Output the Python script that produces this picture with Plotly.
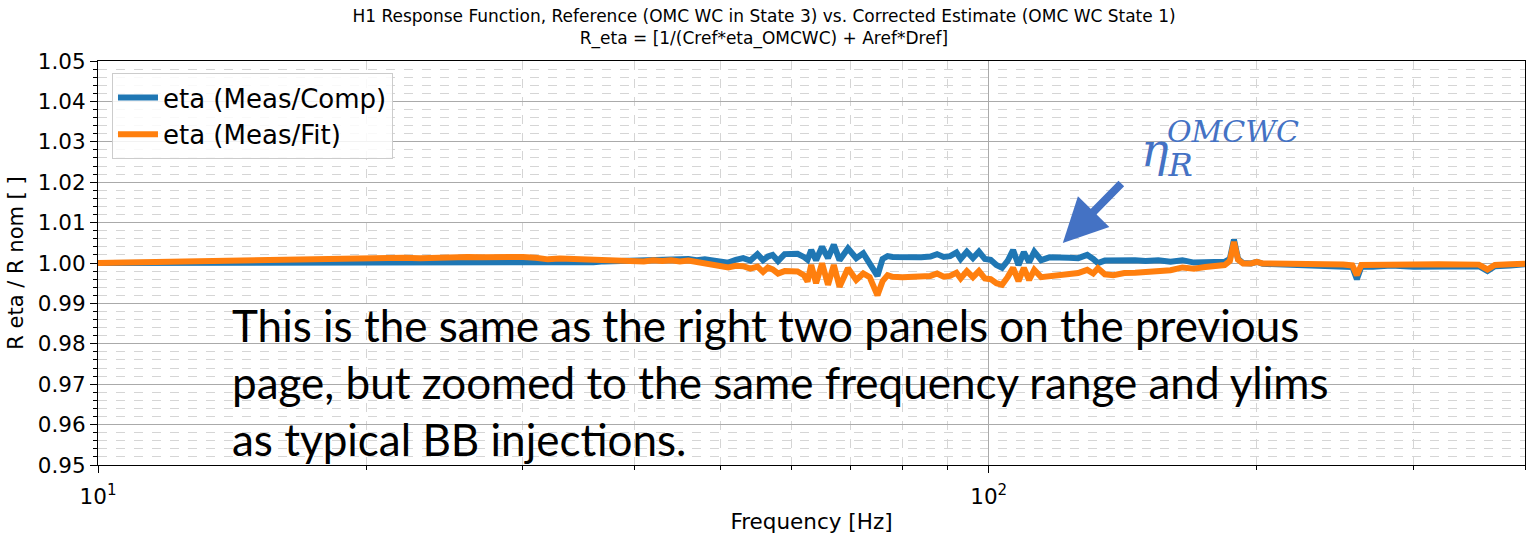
import math
import plotly.graph_objects as go

# ---- data ----
freq_hz = [10, 11, 12, 13, 14, 15, 16, 17, 18, 19, 20, 21, 22, 23, 24, 25, 26, 27, 28, 29, 30,
           31, 32, 33, 34, 35, 36, 37, 38, 39, 40, 41, 42, 43, 44, 45, 46, 47, 48, 49, 50,
           51, 52, 53, 54, 55, 55.8, 56.5, 57.2, 58, 59, 60, 61, 62, 62.6, 63.2, 64, 65, 66,
           67, 68, 69.5, 71, 72.3, 73.5, 75, 76, 77, 78, 80, 82, 84, 86, 87.5, 89, 90.5, 92,
           93, 94.5, 96, 97.5, 99, 100.5, 102, 103.5, 105, 106.5, 108, 109.5, 111, 112.5,
           114.5, 117, 120, 123, 126, 129, 131, 132.6, 135, 138, 142, 146, 150, 155, 160,
           165, 170, 175, 180, 184, 186.5, 188.5, 190.5, 193, 197, 200, 203, 210, 220, 230,
           240, 250, 256, 259, 262, 270, 283, 300, 320, 340, 355, 363, 370, 385, 400]

eta_meas_comp = [1.0000, 1.0000, 1.0001, 1.0001, 1.0001, 1.0002, 1.0002, 1.0002, 1.0002, 1.0002, 1.0002,
                 1.0003, 1.0002, 1.0003, 1.0002, 1.0003, 1.0002, 1.0003, 1.0002, 1.0003, 1.0002,
                 1.0003, 1.0002, 1.0001, 1.0002, 1.0001, 1.0002, 1.0004, 1.0005, 1.0006, 1.0007,
                 1.0005, 1.0008, 1.0006, 1.0009, 1.0008, 1.0010, 1.0007, 1.0009, 1.0006, 1.0003,
                 1.0001, 1.0008, 1.0012, 1.0006, 1.0022, 1.0007, 1.0016, 1.0020, 1.0005, 1.0022,
                 1.0024, 1.0023, 1.0015, 1.0008, 1.0032, 1.0007, 1.0040, 1.0012, 1.0045, 1.0007,
                 1.0036, 1.0012, 1.0024, 1.0000, 0.9968, 1.0010, 1.0017, 1.0015, 1.0014, 1.0016,
                 1.0014, 1.0016, 1.0022, 1.0015, 1.0017, 1.0026, 1.0010, 1.0028, 1.0012, 1.0028,
                 1.0010, 1.0008, 0.9995, 0.9988, 1.0005, 1.0032, 0.9995, 1.0027, 1.0002, 1.0028,
                 1.0007, 1.0014, 1.0012, 1.0013, 1.0012, 1.0020, 1.0010, 1.0000, 1.0006, 1.0007,
                 1.0006, 1.0007, 1.0005, 1.0007, 1.0003, 1.0007, 1.0001, 1.0002, 1.0003, 1.0003,
                 1.0010, 1.0058, 1.0010, 1.0000, 0.9999, 1.0003, 0.9998, 0.9997, 0.9996, 0.9995,
                 0.9993, 0.9992, 0.9990, 0.9960, 0.9991, 0.9991, 0.9994, 0.9991, 0.9991, 0.9993,
                 0.9992, 0.9980, 0.9992, 0.9994, 0.9997]

eta_meas_fit = [1.0000, 1.0002, 1.0003, 1.0004, 1.0005, 1.0006, 1.0007, 1.0008, 1.0010, 1.0011, 1.0012,
                1.0012, 1.0013, 1.0012, 1.0014, 1.0013, 1.0015, 1.0014, 1.0015, 1.0016, 1.0015,
                1.0013, 1.0009, 1.0011, 1.0010, 1.0009, 1.0006, 1.0008, 1.0005, 1.0007, 1.0006,
                1.0004, 1.0007, 1.0005, 1.0007, 1.0004, 1.0006, 1.0002, 1.0001, 0.9996, 0.9991,
                0.9989, 0.9993, 0.9992, 0.9986, 0.9991, 0.9978, 0.9989, 0.9984, 0.9974, 0.9980,
                0.9978, 0.9979, 0.9970, 0.9954, 0.9995, 0.9950, 0.9999, 0.9946, 0.9995, 0.9941,
                0.9987, 0.9958, 0.9974, 0.9965, 0.9920, 0.9955, 0.9970, 0.9966, 0.9965, 0.9966,
                0.9965, 0.9968, 0.9974, 0.9966, 0.9968, 0.9976, 0.9962, 0.9980, 0.9965, 0.9980,
                0.9962, 0.9960, 0.9950, 0.9946, 0.9965, 0.9988, 0.9955, 0.9988, 0.9958, 0.9983,
                0.9965, 0.9968, 0.9970, 0.9972, 0.9975, 0.9983, 0.9974, 0.9987, 0.9972, 0.9970,
                0.9975, 0.9976, 0.9978, 0.9980, 0.9982, 0.9989, 0.9986, 0.9990, 0.9993, 0.9995,
                1.0005, 1.0052, 1.0008, 0.9999, 0.9999, 1.0003, 0.9999, 0.9999, 0.9998, 0.9998,
                0.9997, 0.9996, 0.9994, 0.9970, 0.9995, 0.9996, 0.9997, 0.9996, 0.9997, 0.9997,
                0.9996, 0.9984, 0.9995, 0.9997, 0.9998]

series_names = ["eta (Meas/Comp)", "eta (Meas/Fit)"]
series_colors = ["#1f77b4", "#ff7f0e"]

x_major_ticks = [10, 100]
x_major_labels = ["10<sup>1</sup>", "10<sup>2</sup>"]
x_minor_ticks = [20, 30, 40, 50, 60, 70, 80, 90, 200, 300, 400]

title_text = ("H1 Response Function, Reference (OMC WC in State 3) vs. Corrected Estimate (OMC WC State 1)"
              "<br>R_eta = [1/(Cref*eta_OMCWC) + Aref*Dref]")
note_text = ("This is the same as the right two panels on the previous<br>"
             "page, but zoomed to the same frequency range and ylims<br>"
             "as typical BB injections.")
arrow_tip = (121.1, 1.00495)

FONT = "DejaVu Sans"
fig = go.Figure()
for name, vals, col in zip(series_names, [eta_meas_comp, eta_meas_fit], series_colors):
    fig.add_trace(go.Scatter(x=freq_hz, y=vals, mode="lines", name=name,
                             line=dict(color=col, width=6)))

fig.update_layout(
    width=1528, height=534,
    margin=dict(l=98, r=3, t=61, b=69),
    paper_bgcolor="white", plot_bgcolor="white",
    font=dict(family=FONT, color="black"),
    title=dict(text=title_text, x=0.5, xref="container", xanchor="center",
               y=1 - 22 / 534, yref="container", yanchor="middle",
               font=dict(family=FONT, size=17)),
    showlegend=True,
    legend=dict(x=0.0098, y=0.97, xanchor="left", yanchor="top",
                bgcolor="rgba(255,255,255,0.85)", bordercolor="#cccccc", borderwidth=1,
                font=dict(family=FONT, size=26), tracegroupgap=0, itemwidth=40),
    xaxis=dict(type="log", range=[1, math.log10(400)],
               tickmode="array", tickvals=x_major_ticks, ticktext=x_major_labels,
               ticks="outside", ticklen=7, tickwidth=1, tickcolor="black",
               tickfont=dict(size=21.5), ticklabelstandoff=5,
               showline=True, linecolor="black", linewidth=1, mirror=True,
               showgrid=True, gridcolor="#aaaaaa", gridwidth=1,
               minor=dict(tickmode="array", tickvals=x_minor_ticks, ticks="outside", ticklen=4,
                          tickcolor="black", showgrid=True, gridcolor="#d5d5d5", griddash="dash",
                          gridwidth=1),
               title=dict(text="Frequency [Hz]", font=dict(size=21.5), standoff=8),
               zeroline=False),
    yaxis=dict(range=[0.95, 1.05], dtick=0.01, tick0=0.95, tickformat=".2f",
               ticks="outside", ticklen=7, tickwidth=1, tickcolor="black",
               tickfont=dict(size=21.5),
               showline=True, linecolor="black", linewidth=1, mirror=True,
               showgrid=True, gridcolor="#aaaaaa", gridwidth=1,
               minor=dict(dtick=0.002, ticks="outside", ticklen=4, tickcolor="black",
                          showgrid=True, gridcolor="#d5d5d5", griddash="dash", gridwidth=1),
               title=dict(text="R eta / R nom [ ]", font=dict(size=21), standoff=8),
               zeroline=False),
)

BLUE = "#4472C4"
fig.add_annotation(xref="paper", yref="paper", x=0.0925, y=0.205, xanchor="left", yanchor="middle",
                   align="left", showarrow=False, text=note_text,
                   font=dict(family="Lato", size=44, color="black"))
fig.add_annotation(xref="paper", yref="paper", x=0.7295, y=0.77, xanchor="left", yanchor="middle",
                   showarrow=False, text="<i>η<sub>R</sub></i>",
                   font=dict(family="DejaVu Serif", size=46, color=BLUE))
fig.add_annotation(xref="paper", yref="paper", x=0.7477, y=0.826, xanchor="left", yanchor="middle",
                   showarrow=False, text="<i>OMCWC</i>",
                   font=dict(family="DejaVu Serif", size=30, color=BLUE))
fig.add_annotation(x=math.log10(arrow_tip[0]), y=arrow_tip[1], xref="x", yref="y",
                   text="", showarrow=True, arrowhead=2, arrowwidth=8, arrowsize=1.1,
                   arrowcolor=BLUE, ax=60, ay=-61)

fig.write_html("out.html", config={"displayModeBar": False},
               post_script="document.body.style.margin='0px';")
